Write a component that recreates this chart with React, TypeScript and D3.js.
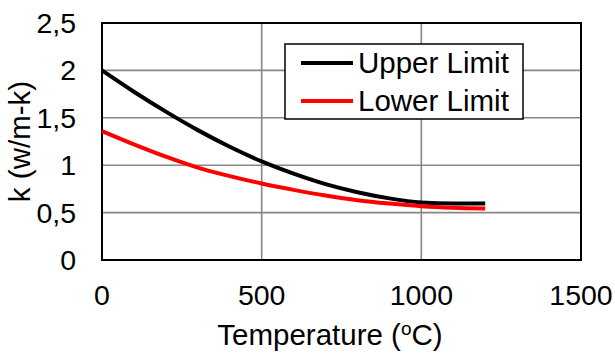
import * as d3 from "d3";

const W = 615;
const H = 354;
const PLOT = { left: 102, right: 581, top: 23, bottom: 260 };
const FONT = "'Liberation Sans', Arial, sans-serif";

const temperatures = [0, 100, 200, 300, 400, 500, 600, 700, 800, 900, 1000, 1100, 1200];
const upperLimit = [2.0, 1.775, 1.565, 1.37, 1.195, 1.04, 0.91, 0.8, 0.715, 0.65, 0.607, 0.595, 0.597];
const lowerLimit = [1.36, 1.22, 1.09, 0.975, 0.885, 0.807, 0.74, 0.68, 0.63, 0.595, 0.568, 0.552, 0.544];

const xTicks = [0, 500, 1000, 1500];
const yTicks = [0, 0.5, 1, 1.5, 2, 2.5];

const seriesList = [
  { name: "Upper Limit", values: upperLimit, color: "#000000" },
  { name: "Lower Limit", values: lowerLimit, color: "#ff0000" },
];

export default function App() {
  const x = d3.scaleLinear().domain([0, 1500]).range([PLOT.left, PLOT.right]);
  const y = d3.scaleLinear().domain([0, 2.5]).range([PLOT.bottom, PLOT.top]);
  const fmt = (v: number) => String(v).replace(".", ",");

  const line = d3
    .line<number>()
    .x((_, i) => x(temperatures[i]))
    .y((d) => y(d))
    .curve(d3.curveMonotoneX);

  return (
    <svg
      width={W}
      height={H}
      style={{ position: "absolute", left: 0, top: 0, background: "#fff" }}
      fontFamily={FONT}
    >
      <rect x={0} y={0} width={W} height={H} fill="#fff" />
      {/* grid */}
      {yTicks
        .filter((t) => t > 0 && t < 2.5)
        .map((t) => (
          <line key={"gy" + t} x1={PLOT.left} x2={PLOT.right} y1={y(t)} y2={y(t)} stroke="#868686" strokeWidth={1.6} />
        ))}
      {xTicks
        .filter((t) => t > 0 && t < 1500)
        .map((t) => (
          <line key={"gx" + t} x1={x(t)} x2={x(t)} y1={PLOT.top} y2={PLOT.bottom} stroke="#868686" strokeWidth={1.6} />
        ))}
      {/* plot border */}
      <rect
        x={PLOT.left}
        y={PLOT.top}
        width={PLOT.right - PLOT.left}
        height={PLOT.bottom - PLOT.top}
        fill="none"
        stroke="#000"
        strokeWidth={2}
      />
      {/* series */}
      {seriesList.map((s) => (
        <path key={s.name} d={line(s.values) || ""} fill="none" stroke={s.color} strokeWidth={4} />
      ))}
      {/* y tick labels */}
      {yTicks.map((t) => (
        <text key={"yl" + t} x={76} y={y(t) + 10} textAnchor="end" fontSize={28.5} fill="#000">
          {fmt(t)}
        </text>
      ))}
      {/* x tick labels */}
      {xTicks.map((t) => (
        <text key={"xl" + t} x={x(t)} y={305} textAnchor="middle" fontSize={28.5} fill="#000">
          {t}
        </text>
      ))}
      {/* axis titles */}
      <text x={330} y={345} textAnchor="middle" fontSize={29.5} fill="#000">
        Temperature (<tspan fontSize={19} dy={-10}>o</tspan>
        <tspan dy={10}>C)</tspan>
      </text>
      <text
        transform={`translate(30, ${(PLOT.top + PLOT.bottom) / 2}) rotate(-90)`}
        textAnchor="middle"
        fontSize={29.5}
        fill="#000"
      >
        k (w/m-k)
      </text>
      {/* legend */}
      <rect x={285} y={44} width={238} height={75} fill="#fff" stroke="#000" strokeWidth={1.5} />
      {seriesList.map((s, i) => (
        <g key={"lg" + s.name}>
          <line x1={301} x2={353} y1={63 + i * 38} y2={63 + i * 38} stroke={s.color} strokeWidth={4} />
          <text x={358} y={73 + i * 38} fontSize={29.5} fill="#000">
            {s.name}
          </text>
        </g>
      ))}
    </svg>
  );
}
